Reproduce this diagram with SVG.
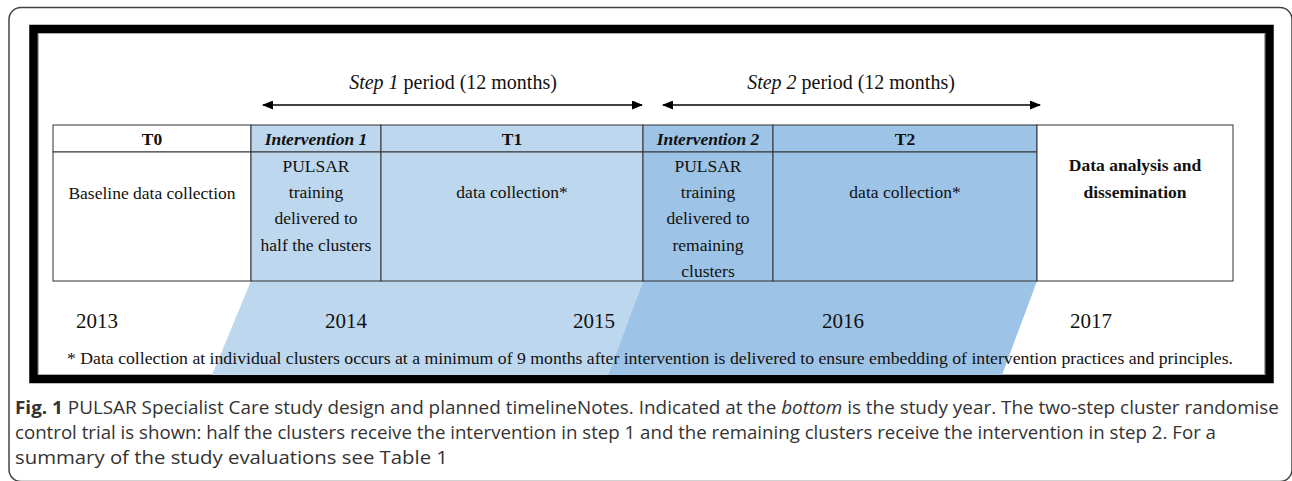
<svg xmlns="http://www.w3.org/2000/svg" width="1292" height="481" viewBox="0 0 1292 481">
<defs>
<style>
.serif{font-family:"Liberation Serif","Times New Roman",serif;fill:#111}
.hd{font-size:17.5px;font-weight:bold;text-anchor:middle}
.it{font-style:italic}
.bd{font-size:17.5px;text-anchor:middle}
.yr{font-size:21px;text-anchor:middle}
.step{font-size:20px;text-anchor:middle}
.cell{stroke:#333;stroke-width:1}
.wh{fill:#fff}
.lb{fill:#BDD7EE}
.db{fill:#9DC3E6}
.cap{font-family:"Open Sans","Noto Sans",sans-serif;font-size:17.5px;fill:#333}
.arrow{stroke:#000;stroke-width:1.6;fill:none;marker-start:url(#ah);marker-end:url(#ah)}
</style>
<marker id="ah" viewBox="0 0 11 9" refX="10" refY="4.5" markerWidth="11" markerHeight="9" markerUnits="userSpaceOnUse" orient="auto-start-reverse"><path d="M0,0 L11,4.5 L0,9 z" fill="#000"/></marker>
</defs>
<rect x="0" y="0" width="1292" height="481" fill="#fff"/>
<rect x="9" y="7.5" width="1283" height="474" rx="12" fill="none" stroke="#444" stroke-width="1.5"/>

<g id="frame">
<rect x="33.5" y="29" width="1236" height="350" fill="#fff" stroke="#000" stroke-width="8.5"/>
<rect x="38.5" y="33.5" width="1226" height="341" fill="none" stroke="#aaa" stroke-width="1"/>
</g>

<g id="bands">
<polygon class="lb" points="251,281 643,281 608,375 212,375"/>
<polygon class="db" points="643,281 1037,281 1002,375 608,375"/>
</g>

<g id="step1-label"><text class="serif step" x="453" y="89"><tspan class="it">Step 1</tspan> period (12 months)</text></g>
<g id="step2-label"><text class="serif step" x="851" y="89"><tspan class="it">Step 2</tspan> period (12 months)</text></g>

<g id="connectors">
<line class="arrow" x1="263" y1="105" x2="642" y2="105"/>
<line class="arrow" x1="663" y1="105" x2="1040" y2="105"/>
</g>

<g id="col-t0">
<rect class="cell wh" x="53" y="125" width="198" height="27"/>
<rect class="cell wh" x="53" y="152" width="198" height="129"/>
<text class="serif hd" x="152" y="145">T0</text>
<text class="serif bd" x="152" y="199">Baseline data collection</text>
</g>

<g id="col-int1">
<rect class="cell lb" x="251" y="125" width="130" height="27"/>
<rect class="cell lb" x="251" y="152" width="130" height="129"/>
<text class="serif hd it" x="316" y="145">Intervention 1</text>
<text class="serif bd" x="316" y="172">PULSAR</text>
<text class="serif bd" x="316" y="198">training</text>
<text class="serif bd" x="316" y="224">delivered to</text>
<text class="serif bd" x="316" y="251">half the clusters</text>
</g>

<g id="col-t1">
<rect class="cell lb" x="381" y="125" width="262" height="27"/>
<rect class="cell lb" x="381" y="152" width="262" height="129"/>
<text class="serif hd" x="512" y="145">T1</text>
<text class="serif bd" x="512" y="198">data collection*</text>
</g>

<g id="col-int2">
<rect class="cell db" x="643" y="125" width="130" height="27"/>
<rect class="cell db" x="643" y="152" width="130" height="129"/>
<text class="serif hd it" x="708" y="145">Intervention 2</text>
<text class="serif bd" x="708" y="172">PULSAR</text>
<text class="serif bd" x="708" y="198">training</text>
<text class="serif bd" x="708" y="224">delivered to</text>
<text class="serif bd" x="708" y="251">remaining</text>
<text class="serif bd" x="708" y="277">clusters</text>
</g>

<g id="col-t2">
<rect class="cell db" x="773" y="125" width="264" height="27"/>
<rect class="cell db" x="773" y="152" width="264" height="129"/>
<text class="serif hd" x="905" y="145">T2</text>
<text class="serif bd" x="905" y="198">data collection*</text>
</g>

<g id="col-analysis">
<rect class="cell wh" x="1037" y="125" width="196" height="156"/>
<text class="serif hd" x="1135" y="171">Data analysis and</text>
<text class="serif hd" x="1135" y="198">dissemination</text>
</g>

<g id="years">
<text class="serif yr" x="97" y="328">2013</text>
<text class="serif yr" x="346" y="328">2014</text>
<text class="serif yr" x="594" y="328">2015</text>
<text class="serif yr" x="843" y="328">2016</text>
<text class="serif yr" x="1091" y="328">2017</text>
</g>

<g id="footnote">
<text class="serif" font-size="17.5" x="67" y="364" textLength="1166" lengthAdjust="spacingAndGlyphs">* Data collection at individual clusters occurs at a minimum of 9 months after intervention is delivered to ensure embedding of intervention practices and principles.</text>
</g>

<g id="caption">
<text class="cap" x="15" y="414" textLength="1264" lengthAdjust="spacingAndGlyphs"><tspan font-weight="bold">Fig. 1</tspan> PULSAR Specialist Care study design and planned timelineNotes. Indicated at the <tspan font-style="italic">bottom</tspan> is the study year. The two-step cluster randomise</text>
<text class="cap" x="15" y="439" textLength="1201" lengthAdjust="spacingAndGlyphs">control trial is shown: half the clusters receive the intervention in step 1 and the remaining clusters receive the intervention in step 2. For a</text>
<text class="cap" x="15" y="464" textLength="433" lengthAdjust="spacingAndGlyphs">summary of the study evaluations see Table 1</text>
</g>
</svg>
